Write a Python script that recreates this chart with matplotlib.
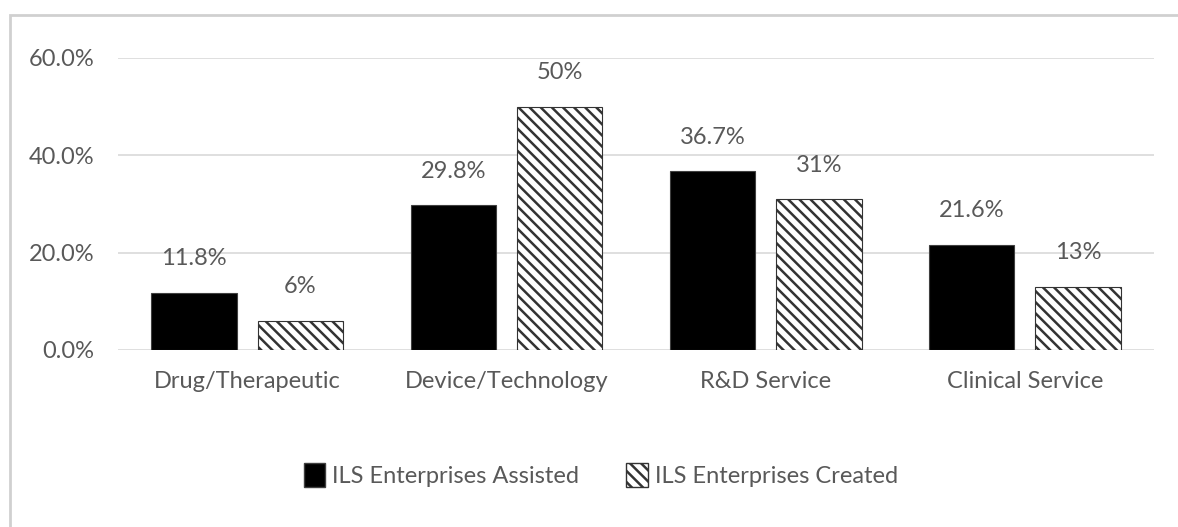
import matplotlib
matplotlib.use("Agg")
import matplotlib.pyplot as plt
from matplotlib.patches import Rectangle, Patch
from matplotlib.ticker import FuncFormatter
import numpy as np

categories = ["Drug/Therapeutic", "Device/Technology", "R&D Service", "Clinical Service"]
assisted = [11.8, 29.8, 36.7, 21.6]
created = [6, 50, 31, 13]
assisted_labels = ["11.8%", "29.8%", "36.7%", "21.6%"]
created_labels = ["6%", "50%", "31%", "13%"]
yticks = [0, 20, 40, 60]

plt.rcParams['font.family'] = ['Lato', 'DejaVu Sans']
plt.rcParams['hatch.linewidth'] = 1.8
text_col = '#595959'
fs = 17

fig = plt.figure(figsize=(11.78, 5.27), dpi=100)
ax = fig.add_axes([0.1, 0.336, 0.88, 0.554])

x = np.arange(len(categories))
w = 0.33
off = 0.205
ax.bar(x - off, assisted, w, color='black', edgecolor='#404040', linewidth=0.8, zorder=3)
ax.bar(x + off, created, w, color='white', edgecolor='#333333', hatch='\\\\\\', linewidth=0.8, zorder=3)

for xi, v, s in zip(x - off, assisted, assisted_labels):
    ax.text(xi, v + 4.8, s, ha='center', va='bottom', fontsize=fs, color=text_col)
for xi, v, s in zip(x + off, created, created_labels):
    ax.text(xi, v + 4.8, s, ha='center', va='bottom', fontsize=fs, color=text_col)

ax.set_xlim(-0.5, 3.5)
ax.set_ylim(0, 60)
ax.set_yticks(yticks)
ax.yaxis.set_major_formatter(FuncFormatter(lambda v, p: "%.1f%%" % v))
ax.set_xticks(x)
ax.set_xticklabels(categories)
ax.tick_params(axis='both', length=0, labelsize=fs, labelcolor=text_col)
ax.tick_params(axis='x', pad=15)
ax.tick_params(axis='y', pad=17)
ax.grid(axis='y', color='#d9d9d9', linewidth=1.2, zorder=0)
for sp in ax.spines.values():
    sp.set_visible(False)

handles = [Patch(facecolor='black', edgecolor='#404040'),
           Patch(facecolor='white', edgecolor='#333333', hatch='\\\\\\')]
fig.legend(handles, ["ILS Enterprises Assisted", "ILS Enterprises Created"],
           loc='center', bbox_to_anchor=(0.51, 0.098), ncol=2, frameon=False,
           fontsize=fs, labelcolor=text_col, handlelength=0.9, handleheight=1.2,
           handletextpad=0.3, columnspacing=2.0)

# outer chart frame
fig.patches.append(Rectangle((10 / 1178, -0.1), 1.2, 1 - 15 / 527 + 0.1,
                             transform=fig.transFigure, fill=False,
                             edgecolor='#d0d0d0', linewidth=2))

fig.savefig("out.png", dpi=100)
